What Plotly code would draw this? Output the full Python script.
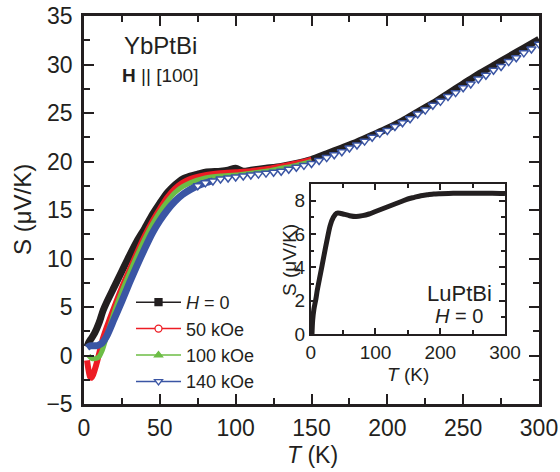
import plotly.graph_objects as go

# ---------------- data ----------------
T_h0 = [2, 3, 5, 7, 10, 12.5, 15, 20, 25, 30, 35, 40, 45, 50, 55, 60, 65, 70, 75, 80, 90, 95, 100,
        105, 110, 120, 130, 140, 150, 160, 170, 180, 190, 200, 210, 220, 230, 240, 250, 260,
        270, 280, 290, 300]
S_h0 = [0.9, 1.3, 1.8, 2.3, 3.4, 4.6, 5.5, 7.1, 8.7, 10.3, 11.8, 13.1, 14.5, 15.7, 16.8, 17.6,
        18.2, 18.5, 18.7, 18.9, 19.0, 19.1, 19.3, 19.0, 19.1, 19.3, 19.5, 19.8, 20.2, 20.8, 21.4,
        22.0, 22.7, 23.4, 24.2, 25.1, 26.0, 27.0, 28.0, 29.0, 29.9, 30.8, 31.7, 32.6]

T_50 = [2, 3, 4, 5, 6, 8, 10, 12, 15, 20, 25, 30, 35, 40, 45, 50, 55, 60, 65, 70, 80, 90, 100,
        110, 120, 130, 140, 150]
S_50 = [-0.5, -1.5, -2.2, -2.3, -2.0, -1.0, 0.2, 1.5, 2.9, 5.0, 7.0, 8.8, 10.6, 12.3, 13.8,
        15.1, 16.3, 17.2, 17.8, 18.2, 18.6, 18.8, 18.9, 19.0, 19.2, 19.5, 19.8, 20.2]

T_100 = [3, 5, 8, 10, 12, 15, 20, 25, 30, 35, 40, 45, 50, 55, 60, 65, 70, 80, 90, 100, 110,
         120, 130, 140, 150]
S_100 = [0.0, -0.3, -0.3, -0.1, 0.5, 2.0, 4.5, 6.6, 8.5, 10.3, 12.0, 13.5, 14.8, 15.9, 16.8,
         17.4, 17.8, 18.3, 18.5, 18.6, 18.8, 19.0, 19.3, 19.6, 20.0]

T_140 = [2, 4, 6, 8, 10, 12, 15, 20, 25, 30, 35, 40, 45, 50, 55, 60, 65, 70, 75, 80, 85, 90,
         95, 100, 105, 110, 115, 120, 125, 130, 135, 140, 145, 150, 155, 160, 165, 170, 175,
         180, 185, 190, 195, 200, 205, 210, 215, 220, 225, 230, 235, 240, 245, 250, 255, 260,
         265, 270, 275, 280, 285, 290, 295, 300]
S_140 = [0.8, 1.0, 1.0, 1.0, 1.1, 1.3, 2.0, 3.8, 5.6, 7.5, 9.3, 11.0, 12.6, 13.9, 15.0, 15.9,
         16.6, 17.1, 17.5, 17.8, 18.0, 18.2, 18.3, 18.4, 18.5, 18.6, 18.7, 18.8, 18.9, 19.0,
         19.2, 19.4, 19.6, 19.8, 20.1, 20.4, 20.7, 21.0, 21.4, 21.7, 22.1, 22.5, 22.9, 23.2,
         23.6, 24.0, 24.4, 24.9, 25.3, 25.8, 26.2, 26.7, 27.1, 27.6, 28.0, 28.5, 28.9, 29.4,
         29.8, 30.3, 30.7, 31.2, 31.6, 32.1]

T_lu = [2, 3, 5, 8, 10, 15, 20, 25, 30, 35, 40, 45, 50, 60, 70, 80, 90, 100, 110, 120, 130,
        140, 150, 160, 170, 180, 190, 200, 220, 240, 260, 280, 300]
S_lu = [0.0, 0.8, 1.5, 2.1, 2.6, 3.6, 4.6, 5.6, 6.5, 7.0, 7.25, 7.25, 7.2, 7.1, 7.05, 7.1, 7.2,
        7.35, 7.5, 7.65, 7.8, 7.95, 8.1, 8.2, 8.3, 8.35, 8.4, 8.42, 8.45, 8.45, 8.45, 8.45, 8.43]

legend_names = ["<i>H</i> = 0", "50 kOe", "100 kOe", "140 kOe"]

# ---------------- styles ----------------
BLACK = "#231f20"
RED = "#ed1c24"
GREEN = "#6cbd45"
BLUE = "#3a55a4"
W, H = 560, 472


def px(x):
    return x / W


def py(y):
    return 1 - y / H


fig = go.Figure()
SM = 0.7

# main data traces
fig.add_trace(go.Scatter(x=T_h0, y=S_h0, mode="lines",
                         line=dict(color=BLACK, width=7, shape="spline", smoothing=SM),
                         showlegend=False, xaxis="x", yaxis="y"))
fig.add_trace(go.Scatter(x=T_50, y=S_50, mode="lines",
                         line=dict(color=RED, width=6, shape="spline", smoothing=SM),
                         showlegend=False))
fig.add_trace(go.Scatter(x=T_100, y=S_100, mode="lines",
                         line=dict(color=GREEN, width=5, shape="spline", smoothing=SM),
                         showlegend=False))
split = T_140.index(85)
fig.add_trace(go.Scatter(x=T_140[:split + 1], y=S_140[:split + 1], mode="lines",
                         line=dict(color=BLUE, width=7, shape="spline", smoothing=SM),
                         showlegend=False))
fig.add_trace(go.Scatter(x=T_140[split - 2:], y=S_140[split - 2:], mode="markers",
                         marker=dict(symbol="triangle-down", size=8, color="white",
                                     line=dict(color=BLUE, width=1.5)),
                         showlegend=False))

# legend entries
leg_styles = [
    dict(color=BLACK, symbol="square", mcolor=BLACK),
    dict(color=RED, symbol="circle", mcolor="white"),
    dict(color=GREEN, symbol="triangle-up", mcolor=GREEN),
    dict(color=BLUE, symbol="triangle-down", mcolor="white"),
]
for name, st in zip(legend_names, leg_styles):
    fig.add_trace(go.Scatter(x=[None], y=[None], mode="lines+markers", name=name,
                             line=dict(color=st["color"], width=1.5),
                             marker=dict(symbol=st["symbol"], size=7, color=st["mcolor"],
                                         line=dict(color=st["color"], width=1.3))))

# inset data
fig.add_trace(go.Scatter(x=T_lu, y=S_lu, mode="lines",
                         line=dict(color=BLACK, width=5, shape="spline", smoothing=SM),
                         showlegend=False, xaxis="x2", yaxis="y2"))

axis_common = dict(showgrid=False, zeroline=False, showline=True, linecolor=BLACK,
                   mirror="ticks", ticks="inside", tickcolor=BLACK, automargin=False)

fig.update_layout(
    width=W, height=H,
    margin=dict(l=0, r=0, t=0, b=0),
    paper_bgcolor="white", plot_bgcolor="white",
    font=dict(family="Liberation Sans, Arial, sans-serif", color=BLACK),
    xaxis=dict(domain=[px(84), px(539)], range=[0, 300], dtick=50, anchor="y",
               linewidth=2.5, ticklen=10, tickwidth=2,
               minor=dict(ticks="inside", dtick=25, ticklen=6, tickwidth=2, tickcolor=BLACK),
               tickfont=dict(size=23), ticklabelstandoff=2, **axis_common),
    yaxis=dict(domain=[py(404), py(16)], range=[-5, 35], dtick=5, anchor="x",
               linewidth=2.5, ticklen=10, tickwidth=2,
               minor=dict(ticks="inside", dtick=2.5, ticklen=6, tickwidth=2, tickcolor=BLACK),
               tickfont=dict(size=23), ticklabelstandoff=4, **axis_common),
    xaxis2=dict(domain=[px(310.7), px(505)], range=[0, 300], dtick=100, anchor="y2",
                linewidth=1.5, ticklen=6, tickwidth=1.5,
                minor=dict(ticks="inside", dtick=50, ticklen=4, tickwidth=1.5, tickcolor=BLACK),
                tickfont=dict(size=19), ticklabelstandoff=0, **axis_common),
    yaxis2=dict(domain=[py(334), py(184)], range=[0, 9], tickvals=[0, 2, 4, 6, 8], anchor="x2",
                linewidth=1.5, ticklen=6, tickwidth=1.5,
                minor=dict(ticks="inside", dtick=1, ticklen=4, tickwidth=1.5, tickcolor=BLACK),
                tickfont=dict(size=19), ticklabelstandoff=0, **axis_common),
    showlegend=True,
    legend=dict(x=px(131), y=py(284), xanchor="left", yanchor="top",
                bgcolor="rgba(0,0,0,0)", font=dict(size=18), itemwidth=45,
                tracegroupgap=0),
)

ann = [
    dict(text="YbPtBi", x=px(160), y=py(46), size=24, xanchor="center"),
    dict(text="<b>H</b> || [100]", x=px(160), y=py(75), size=19, xanchor="center"),
    dict(text="LuPtBi", x=px(494), y=py(293), size=22, xanchor="right"),
    dict(text="<i>H</i> = 0", x=px(485), y=py(316), size=20, xanchor="right"),
    dict(text="<i>T</i> (K)", x=px(312), y=py(455), size=23, xanchor="center"),
    dict(text="<i>T</i> (K)", x=px(408), y=py(374), size=19, xanchor="center"),
]
for a in ann:
    fig.add_annotation(text=a["text"], x=a["x"], y=a["y"], xref="paper", yref="paper",
                       xanchor=a["xanchor"], yanchor="middle", showarrow=False,
                       font=dict(size=a["size"], color=BLACK))
fig.add_annotation(text="S (μV/K)", x=px(23), y=py(210), xref="paper", yref="paper",
                   textangle=-90, showarrow=False, xanchor="center", yanchor="middle",
                   font=dict(size=24, color=BLACK))
fig.add_annotation(text="S (μV/K)", x=px(289), y=py(260), xref="paper", yref="paper",
                   textangle=-90, showarrow=False, xanchor="center", yanchor="middle",
                   font=dict(size=19, color=BLACK))

fig.write_html("out.html")
